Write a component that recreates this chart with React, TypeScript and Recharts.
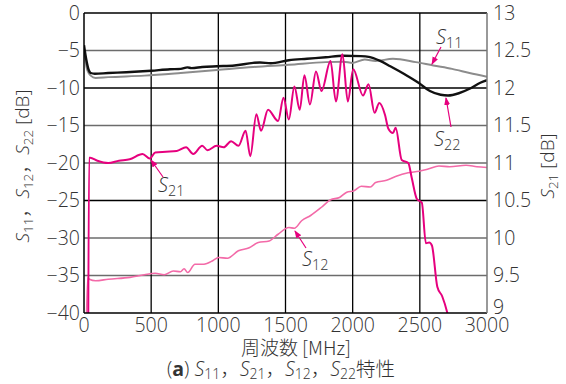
import React from "react";
import { LineChart, Line, XAxis, YAxis, ReferenceLine } from "recharts";

// ---- axis ticks ----
const freqTicks = [0, 500, 1000, 1500, 2000, 2500, 3000];
const leftTicks = [0, -5, -10, -15, -20, -25, -30, -35, -40];
const rightTicks = [9, 9.5, 10, 10.5, 11, 11.5, 12, 12.5, 13];
const darkGridLevels = [0, -10, -25];

// ---- S22 (black, left axis) ----
const s22Freq = [0, 10, 20, 35, 50, 80, 180, 315, 500, 640, 720, 770, 800, 880, 990, 1120, 1260, 1310, 1390, 1525, 1660, 1800, 1930, 2060, 2120, 2200, 2280, 2390, 2490, 2575, 2655, 2710, 2790, 2870, 2950, 3000];
const s22Val = [-4.3, -5.5, -6.5, -7.6, -8.0, -8.1, -8.0, -7.9, -7.7, -7.5, -7.45, -7.25, -7.35, -7.2, -7.1, -7.0, -6.65, -6.6, -6.7, -6.3, -6.1, -5.9, -5.7, -5.75, -5.85, -6.35, -7.1, -8.2, -9.3, -10.4, -10.9, -11.0, -10.7, -10.1, -9.3, -8.95];

// ---- S11 (grey, left axis) ----
const s11Freq = [0, 10, 20, 35, 50, 86, 180, 450, 720, 990, 1260, 1525, 1800, 1930, 2000, 2090, 2170, 2300, 2470, 2600, 2740, 2870, 3000];
const s11Val = [-4.8, -6.2, -7.3, -8.0, -8.35, -8.65, -8.55, -8.35, -8.0, -7.6, -7.2, -6.9, -6.55, -6.5, -6.65, -6.2, -6.4, -6.1, -6.55, -7.0, -7.45, -8.0, -8.5];

// ---- S21 (magenta, right axis) ----
const s21Freq = [30, 38, 46, 100, 180, 260, 340, 436, 490, 530, 610, 690, 760, 813, 880, 920, 987, 1040, 1095, 1150, 1203, 1238, 1283, 1318, 1370, 1445, 1485, 1525, 1566, 1606, 1641, 1682, 1727, 1768, 1835, 1875, 1924, 1964, 2004, 2077, 2118, 2163, 2198, 2241, 2265, 2300, 2320, 2365, 2414, 2440, 2478, 2515, 2545, 2570, 2590, 2630, 2667, 2705, 2740];
const s21Val = [8.0, 11.07, 11.07, 11.03, 11.0, 11.03, 11.05, 11.12, 11.06, 11.14, 11.15, 11.16, 11.21, 11.12, 11.23, 11.17, 11.23, 11.21, 11.29, 11.23, 11.43, 11.09, 11.65, 11.43, 11.71, 11.56, 11.87, 11.58, 12.02, 11.71, 12.17, 11.78, 12.22, 11.96, 12.36, 11.82, 12.45, 11.82, 12.25, 11.9, 12.05, 11.67, 11.8, 11.64, 11.46, 11.4, 11.47, 11.04, 11.0, 10.8, 10.52, 10.47, 9.93, 9.94, 9.9, 9.35, 9.22, 9.0, 8.7];

// ---- S12 (pink, left axis) ----
const s12Freq = [18, 28, 40, 86, 180, 342, 449, 530, 597, 665, 718, 745, 772, 826, 893, 961, 1001, 1068, 1149, 1230, 1297, 1378, 1445, 1525, 1566, 1620, 1687, 1768, 1835, 1902, 1956, 2010, 2064, 2131, 2171, 2252, 2319, 2413, 2494, 2562, 2642, 2723, 2844, 2925, 3000];
const s12Val = [-41, -35.3, -35.5, -35.7, -35.5, -35.25, -34.9, -34.7, -34.9, -34.4, -34.5, -34.1, -34.6, -33.5, -33.5, -33.0, -32.6, -32.7, -31.7, -31.3, -30.6, -30.4, -29.5, -28.6, -28.7, -27.7, -27.0, -25.9, -24.9, -24.6, -23.9, -23.7, -23.1, -23.2, -22.6, -22.3, -21.8, -21.3, -21.1, -20.8, -20.4, -20.5, -20.3, -20.5, -20.6];

const toRows = (f: number[], v: number[]) => f.map((x, i) => ({ f: x, v: v[i] }));
const s22Data = toRows(s22Freq, s22Val);
const s11Data = toRows(s11Freq, s11Val);
const s21Data = toRows(s21Freq, s21Val);
const s12Data = toRows(s12Freq, s12Val);

const W = 566;
const H = 384;
const FONT = "'Open Sans', 'Liberation Sans', Arial, 'Noto Sans CJK JP', sans-serif";
const CJK = "'Noto Sans CJK JP', 'Open Sans', sans-serif";
const TEXT = "#333";
const ARROW = "#e6007e";

const fmtLeft = (v: number) => (v < 0 ? "\u2212" + Math.abs(v) : String(v));
const tickStyle = { fontSize: 19.5, fill: TEXT, fontFamily: FONT, fontWeight: 300 };

function RightTick(props: any) {
  const { x, y, payload } = props;
  const shift = payload.value === rightTicks[0] ? -6 : 0;
  return (
    <text x={x} y={y + shift} dy="0.355em" textAnchor="start" fontSize={19.5} fill={TEXT} fontFamily={FONT} fontWeight={300}>
      {payload.value}
    </text>
  );
}

function SLabel({ x, y, sub, size = 20 }: { x: number; y: number; sub: string; size?: number }) {
  return (
    <text x={x} y={y} fontFamily={FONT} fontWeight={300} fill={TEXT} fontSize={size}>
      <tspan fontStyle="italic">S</tspan>
      <tspan fontSize={size * 0.72} dy={4}>{sub}</tspan>
    </text>
  );
}

function Arrow({ x1, y1, x2, y2 }: { x1: number; y1: number; x2: number; y2: number }) {
  return <line x1={x1} y1={y1} x2={x2} y2={y2} stroke={ARROW} strokeWidth={1.2} markerEnd="url(#ah)" />;
}

export default function App() {
  return (
    <div style={{ position: "absolute", left: 0, top: 0, width: W, height: H, background: "#fff" }}>
      <LineChart width={W} height={H} margin={{ top: 13, right: 0, bottom: 0, left: 0 }}>
        <XAxis
          dataKey="f"
          type="number"
          domain={[0, 3000]}
          ticks={freqTicks}
          interval={0}
          allowDataOverflow
          height={71}
          tickLine={false}
          tickSize={0}
          tickMargin={5}
          axisLine={{ stroke: "#000", strokeWidth: 1.5 }}
          tick={tickStyle}
        />
        <YAxis
          yAxisId="left"
          type="number"
          domain={[-40, 0]}
          ticks={leftTicks}
          interval={0}
          allowDataOverflow
          width={84}
          tickLine={false}
          tickSize={0}
          tickMargin={4}
          tickFormatter={fmtLeft}
          axisLine={{ stroke: "#000", strokeWidth: 1.5 }}
          tick={tickStyle}
        />
        <YAxis
          yAxisId="right"
          orientation="right"
          type="number"
          domain={[9, 13]}
          ticks={rightTicks}
          interval={0}
          allowDataOverflow
          width={79}
          tickLine={false}
          tickSize={0}
          tickMargin={6}
          axisLine={{ stroke: "#777", strokeWidth: 1.5 }}
          tick={<RightTick />}
        />
        {leftTicks
          .filter((t) => t !== -40)
          .map((t) => (
            <ReferenceLine
              key={"h" + t}
              yAxisId="left"
              y={t}
              stroke={darkGridLevels.includes(t) ? "#000" : "#6c6c6c"}
              strokeWidth={1.5}
            />
          ))}
        {freqTicks
          .filter((t) => t !== 0 && t !== 3000)
          .map((t) => (
            <ReferenceLine key={"v" + t} yAxisId="left" x={t} stroke="#000" strokeWidth={1.3} />
          ))}
        <Line yAxisId="left" data={s12Data} dataKey="v" type="monotone" stroke="#f36aa8" strokeWidth={1.6} dot={false} activeDot={false} isAnimationActive={false} />
        <Line yAxisId="left" data={s11Data} dataKey="v" type="monotone" stroke="#8c8c8c" strokeWidth={2} dot={false} activeDot={false} isAnimationActive={false} />
        <Line yAxisId="left" data={s22Data} dataKey="v" type="monotone" stroke="#111" strokeWidth={2.4} dot={false} activeDot={false} isAnimationActive={false} />
        <Line yAxisId="right" data={s21Data} dataKey="v" type="monotone" stroke="#e6007e" strokeWidth={2} dot={false} activeDot={false} isAnimationActive={false} />
      </LineChart>
      <svg width={W} height={H} style={{ position: "absolute", left: 0, top: 0, pointerEvents: "none" }}>
        <defs>
          <marker id="ah" markerWidth="8" markerHeight="8" refX="7" refY="4" orient="auto" markerUnits="userSpaceOnUse">
            <path d="M0,1 L8,4 L0,7 z" fill={ARROW} />
          </marker>
        </defs>
        {/* left axis title */}
        <text transform="translate(29,166) rotate(-90)" textAnchor="middle" fontFamily={FONT} fontWeight={300} fontSize={19} fill={TEXT}>
          <tspan fontStyle="italic">S</tspan>
          <tspan fontSize={13.5} dy={4}>11</tspan>
          <tspan dy={-4} fontFamily={CJK}>，</tspan>
          <tspan fontStyle="italic">S</tspan>
          <tspan fontSize={13.5} dy={4}>12</tspan>
          <tspan dy={-4} fontFamily={CJK}>，</tspan>
          <tspan fontStyle="italic">S</tspan>
          <tspan fontSize={13.5} dy={4}>22</tspan>
          <tspan dy={-4}> [dB]</tspan>
        </text>
        {/* right axis title */}
        <text transform="translate(554,166) rotate(-90)" textAnchor="middle" fontFamily={FONT} fontWeight={300} fontSize={19} fill={TEXT}>
          <tspan fontStyle="italic">S</tspan>
          <tspan fontSize={13.5} dy={4}>21</tspan>
          <tspan dy={-4}> [dB]</tspan>
        </text>
        {/* x axis title */}
        <text x={296} y={355} textAnchor="middle" fontFamily={CJK} fontWeight={300} fontSize={19} fill={TEXT}>
          周波数 [MHz]
        </text>
        {/* caption */}
        <text x={281} y={376} textAnchor="middle" fontFamily={FONT} fontWeight={300} fontSize={19.5} fill={TEXT}>
          <tspan>(</tspan>
          <tspan fontWeight="bold">a</tspan>
          <tspan>) </tspan>
          <tspan fontStyle="italic">S</tspan>
          <tspan fontSize={14} dy={3}>11</tspan>
          <tspan dy={-3} fontFamily={CJK}>，</tspan>
          <tspan fontStyle="italic">S</tspan>
          <tspan fontSize={14} dy={3}>21</tspan>
          <tspan dy={-3} fontFamily={CJK}>，</tspan>
          <tspan fontStyle="italic">S</tspan>
          <tspan fontSize={14} dy={3}>12</tspan>
          <tspan dy={-3} fontFamily={CJK}>，</tspan>
          <tspan fontStyle="italic">S</tspan>
          <tspan fontSize={14} dy={3}>22</tspan>
          <tspan dy={-3} fontFamily={CJK}>特性</tspan>
        </text>
        {/* annotations */}
        <SLabel x={436} y={44} sub="11" />
        <Arrow x1={441} y1={47} x2={432} y2={64} />
        <SLabel x={434} y={146} sub="22" />
        <Arrow x1={451} y1={127} x2={446} y2={98} />
        <SLabel x={158} y={192} sub="21" />
        <Arrow x1={163} y1={177} x2={151} y2={160} />
        <SLabel x={302} y={266} sub="12" />
        <Arrow x1={306} y1={248} x2={295} y2={231} />
      </svg>
    </div>
  );
}
